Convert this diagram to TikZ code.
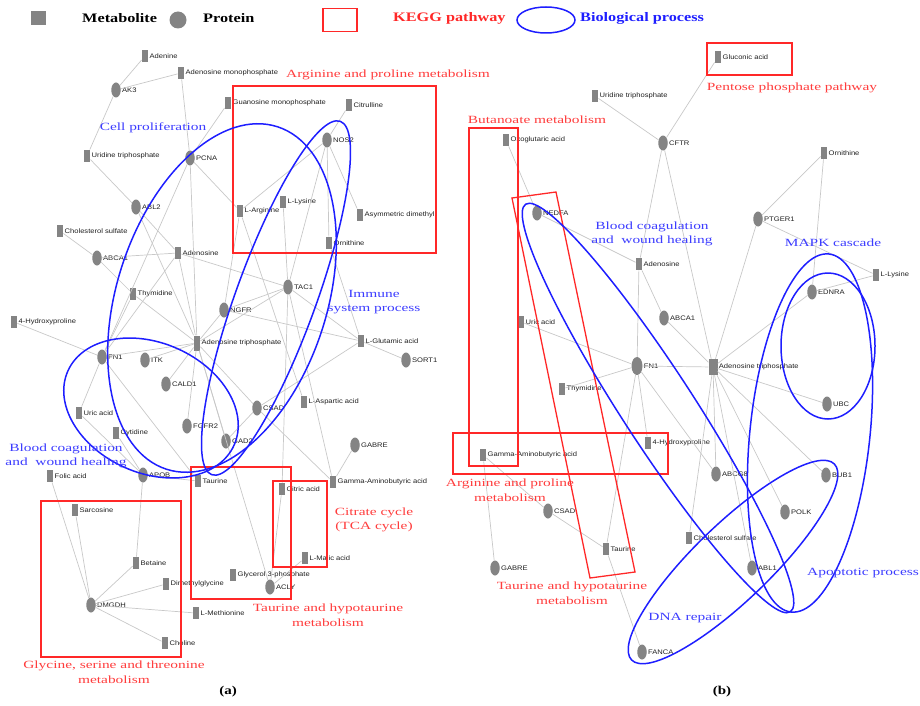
\documentclass[tikz,border=0pt]{standalone}
\usepackage{fontspec}
\setmainfont{Liberation Serif}
\newfontfamily\lblfont[FakeStretch=1.15]{Liberation Sans}
\newfontfamily\annfont[FakeStretch=1.4]{Liberation Serif}
\newfontfamily\legfont[FakeStretch=1.25]{Liberation Serif}
\usetikzlibrary{shapes.geometric}
\definecolor{nodegray}{RGB}{132,132,132}
\definecolor{linkgray}{RGB}{200,200,200}
\definecolor{keggred}{RGB}{255,40,40}
\definecolor{bioblue}{RGB}{30,30,255}
\definecolor{txtblue}{RGB}{60,60,255}
\definecolor{txtred}{RGB}{255,60,60}

\begin{document}
\begin{tikzpicture}[x=1pt, y=-1pt]
		\tikzstyle{meta}=[rectangle,fill=nodegray,minimum width=6.5pt,minimum height=12.5pt,inner sep=0pt]
		\tikzstyle{prot}=[ellipse,fill=nodegray,minimum width=9.5pt,minimum height=15pt,inner sep=0pt]
		\tikzstyle{every label}=[font=\lblfont\fontsize{6.6}{7}\selectfont,inner sep=1pt,text=black!88]
		\tikzstyle{link}=[draw=linkgray,line width=0.7pt]
		\tikzstyle{kegg}=[draw=keggred,line width=1.3pt]
		\tikzstyle{bio}=[draw=bioblue,line width=1.5pt]
		\tikzstyle{redtxt}=[text=txtred,font=\annfont\fontsize{11}{14.5}\selectfont,align=center,inner sep=0pt]
		\tikzstyle{bluetxt}=[text=txtblue,font=\annfont\fontsize{11}{14.5}\selectfont,align=center,inner sep=0pt]
		\tikzstyle{legtxt}=[font=\legfont\fontsize{13}{15}\selectfont\bfseries,anchor=west,inner sep=0pt]
		\useasboundingbox (0,0) rectangle (920,706);

		% legend
		\node[rectangle,fill=nodegray,minimum width=15pt,minimum height=14pt,inner sep=0pt] (legM) at (38,18) {};
		\node[legtxt] (legMt) at (82,18) {Metabolite};
		\node[circle,fill=nodegray,minimum size=17pt,inner sep=0pt] (legP) at (178,20) {};
		\node[legtxt] (legPt) at (203,18) {Protein};
		\node[draw=keggred,line width=1.3pt,minimum width=34pt,minimum height=23pt,inner sep=0pt] (legK) at (340,20) {};
		\node[legtxt,text=keggred] (legKt) at (393,18) {KEGG pathway};
		\node[ellipse,draw=bioblue,line width=1.5pt,minimum width=58pt,minimum height=26pt,inner sep=0pt] (legB) at (546,20) {};
		\node[legtxt,text=bioblue] (legBt) at (580,18) {Biological process};

		% network (a)
		\node[meta,label=right:Adenine] (aden) at (145,56) {};
		\node[meta,label=right:Adenosine monophosphate] (amp) at (181,73) {};
		\node[prot,label=right:AK3] (ak3) at (116,90) {};
		\node[meta,label=right:Guanosine monophosphate] (gmp) at (228,103) {};
		\node[meta,label=right:Citrulline] (citr) at (349,105) {};
		\node[prot,label=right:NOS2] (nos2) at (327,140) {};
		\node[prot,label=right:PCNA] (pcna) at (190,158) {};
		\node[meta,label=right:Uridine triphosphate] (utpA) at (87,156) {};
		\node[prot,label=right:ABL2] (abl2) at (136,207) {};
		\node[meta,label=right:L-Arginine] (larg) at (240,211) {};
		\node[meta,label=right:L-Lysine] (llysA) at (283,202) {};
		\node[meta,label=right:Asymmetric dimethyl] (adma) at (360,215) {};
		\node[meta,label=right:Ornithine] (ornA) at (329,243) {};
		\node[meta,label=right:Cholesterol sulfate] (cholA) at (60,231) {};
		\node[prot,label=right:ABCA1] (abca1A) at (97,258) {};
		\node[meta,label=right:Adenosine] (adoA) at (178,253) {};
		\node[prot,label=right:TAC1] (tac1) at (288,287) {};
		\node[meta,label=right:Thymidine] (thyA) at (133,294) {};
		\node[prot,label=right:NGFR] (ngfr) at (224,310) {};
		\node[meta,label=right:4-Hydroxyproline] (hypA) at (14,322) {};
		\node[meta,minimum height=15pt,label=right:Adenosine triphosphate] (atpA) at (197,343) {};
		\node[meta,label=right:L-Glutamic acid] (lglu) at (361,341) {};
		\node[prot,label=right:SORT1] (sort1) at (406,360) {};
		\node[prot,label=right:FN1] (fn1A) at (102,357) {};
		\node[prot,label=right:ITK] (itk) at (145,360) {};
		\node[prot,label=right:CALD1] (cald1) at (166,384) {};
		\node[meta,label=right:Uric acid] (uricA) at (79,413) {};
		\node[meta,label=right:Cytidine] (cyt) at (116,433) {};
		\node[prot,label=right:FGFR2] (fgfr2) at (187,426) {};
		\node[prot,label=right:CSAD] (csadA) at (257,408) {};
		\node[meta,label=right:L-Aspartic acid] (lasp) at (304,402) {};
		\node[prot,label=right:GABRE] (gabreA) at (355,445) {};
		\node[prot,label=right:GAD2] (gad2) at (226,441) {};
		\node[meta,label=right:Folic acid] (folic) at (50,476) {};
		\node[prot,label=right:APOB] (apob) at (143,475) {};
		\node[meta,label=right:Taurine] (taurA) at (198,481) {};
		\node[meta,label=right:Gamma-Aminobutyric acid] (gabaA) at (333,482) {};
		\node[meta,label=right:Citric acid] (citric) at (282,489) {};
		\node[meta,label=right:Sarcosine] (sarc) at (75,510) {};
		\node[meta,label=right:L-Malic acid] (lmal) at (305,558) {};
		\node[meta,label=right:Betaine] (betaine) at (136,563) {};
		\node[meta,label=right:Dimethylglycine] (dmg) at (166,584) {};
		\node[meta,label=right:Glycerol 3-phosphate] (g3p) at (233,575) {};
		\node[prot,label=right:ACLY] (acly) at (270,587) {};
		\node[prot,label=right:DMGDH] (dmgdh) at (91,605) {};
		\node[meta,label=right:L-Methionine] (lmet) at (196,613) {};
		\node[meta,label=right:Choline] (choline) at (165,643) {};

		\path[link]
		(aden) edge (ak3)  (amp) edge (ak3)  (amp) edge (pcna)
		(ak3) edge (utpA)  (utpA) edge (abl2)  (gmp) edge (pcna)
		(pcna) edge (larg)  (pcna) edge (atpA)  (pcna) edge (fn1A)
		(abl2) edge (adoA)  (abl2) edge (atpA)  (cholA) edge (abca1A)
		(abca1A) edge (adoA)  (abca1A) edge (thyA)  (thyA) edge (atpA)
		(adoA) edge (atpA)  (adoA) edge (tac1)  (citr) edge (nos2)
		(nos2) edge (larg)  (nos2) edge (adma)  (nos2) edge (ornA)
		(nos2) edge (tac1)  (larg) edge (ngfr)  (larg) edge (lasp)
		(llysA) edge (tac1)  (tac1) edge (lglu)  (ngfr) edge (lglu)
		(tac1) edge (ngfr)  (lglu) edge (sort1)  (lglu) edge (csadA)
		(ornA) edge (lglu)  (tac1) edge (citric)  (tac1) edge (gabaA)
		(csadA) edge (gabaA)  (gabreA) edge (gabaA)  (csadA) edge (gad2)
		(hypA) edge (fn1A)  (fn1A) edge (atpA)  (fn1A) edge (thyA)
		(fn1A) edge (adoA)  (fn1A) edge (uricA)  (fn1A) edge (taurA)
		(uricA) edge (apob)  (itk) edge (atpA)  (cald1) edge (atpA)
		(fgfr2) edge (atpA)  (atpA) edge (csadA)  (atpA) edge (gad2)
		(atpA) edge (acly)  (atpA) edge (tac1)  (atpA) edge (ngfr)
		(apob) edge (taurA)  (cyt) edge (apob)  (folic) edge (dmgdh)
		(sarc) edge (dmgdh)  (apob) edge (betaine)  (dmgdh) edge (betaine)
		(dmgdh) edge (dmg)  (dmgdh) edge (lmet)  (dmgdh) edge (choline)
		(citric) edge (acly)  (lmal) edge (acly);

		\draw[kegg] (233,86) rectangle (436,253);
		\draw[kegg] (41,501) rectangle (181,657);
		\draw[kegg] (191,467) rectangle (291,599);
		\draw[kegg] (273,481) rectangle (327,567);
		\draw[bio, rotate around={72:(222,298)}] (222,298) ellipse [x radius=180, y radius=105];
		\draw[bio, rotate around={70:(276,298)}] (276,298) ellipse [x radius=188, y radius=40];
		\draw[bio, rotate around={-24:(151,408)}] (151,408) ellipse [x radius=91, y radius=65];

		\node[redtxt] (argA) at (388,75) {Arginine and proline metabolism};
		\node[bluetxt] (cellA) at (153,128) {Cell proliferation};
		\node[bluetxt] (immA) at (374,302) {Immune\\system process};
		\node[bluetxt] (bloodA) at (66,456) {Blood coagulation\\and~ wound healing};
		\node[redtxt] (tcaA) at (374,520) {Citrate cycle\\(TCA cycle)};
		\node[redtxt] (taurtxtA) at (328,615) {Taurine and hypotaurine\\metabolism};
		\node[redtxt] (glyA) at (114,672) {Glycine, serine and threonine\\metabolism};
		\node[font=\legfont\fontsize{12}{14}\selectfont\bfseries] (capA) at (228,692) {(a)};

		% network (b)
		\node[meta,label=right:Gluconic acid] (gluc) at (718,57) {};
		\node[meta,label=right:Uridine triphosphate] (utpB) at (595,96) {};
		\node[prot,label=right:CFTR] (cftr) at (663,143) {};
		\node[meta,label=right:Ornithine] (ornB) at (824,153) {};
		\node[meta,label=right:Oxoglutaric acid] (oxo) at (506,140) {};
		\node[prot,label=right:PTGER1] (ptger1) at (758,219) {};
		\node[prot,label=right:NEDFA] (nedfa) at (537,213) {};
		\node[meta,label=right:Adenosine] (adoB) at (639,264) {};
		\node[meta,label=right:L-Lysine] (llysB) at (876,275) {};
		\node[prot,label=right:EDNRA] (ednra) at (812,292) {};
		\node[prot,label=right:ABCA1] (abca1B) at (664,318) {};
		\node[meta,label=right:Uric acid] (uricB) at (521,322) {};
		\node[prot,minimum width=11pt,minimum height=18pt,label=right:FN1] (fn1B) at (637,366) {};
		\node[meta,minimum width=9pt,minimum height=16pt,label=right:Adenosine triphosphate] (atpB) at (713,367) {};
		\node[meta,label=right:Thymidine] (thyB) at (562,389) {};
		\node[prot,label=right:UBC] (ubc) at (827,404) {};
		\node[meta,label=right:4-Hydroxyproline] (hypB) at (648,443) {};
		\node[meta,label=right:Gamma-Aminobutyric acid] (gabaB) at (483,455) {};
		\node[prot,label=right:ABCG8] (abcg8) at (716,474) {};
		\node[prot,label=right:BUB1] (bub1) at (826,475) {};
		\node[prot,label=right:CSAD] (csadB) at (548,511) {};
		\node[prot,label=right:POLK] (polk) at (785,512) {};
		\node[meta,label=right:Cholesterol sulfate] (cholB) at (689,538) {};
		\node[meta,label=right:Taurine] (taurB) at (606,549) {};
		\node[prot,label=right:ABL1] (abl1) at (752,568) {};
		\node[prot,label=right:GABRE] (gabreB) at (495,568) {};
		\node[prot,label=right:FANCA] (fanca) at (642,652) {};

		\path[link]
		(gluc) edge (cftr)  (utpB) edge (cftr)  (cftr) edge (adoB)
		(cftr) edge (atpB)  (oxo) edge (nedfa)  (nedfa) edge (adoB)
		(ornB) edge (ptger1)  (ornB) edge (ednra)  (ptger1) edge (atpB)
		(ptger1) edge (llysB)  (llysB) edge (ednra)  (adoB) edge (abca1B)
		(adoB) edge (fn1B)  (abca1B) edge (atpB)  (uricB) edge (fn1B)
		(thyB) edge (fn1B)  (fn1B) edge (atpB)  (atpB) edge (ednra)
		(atpB) edge (ubc)  (atpB) edge (abcg8)  (atpB) edge (bub1)
		(atpB) edge (polk)  (atpB) edge (cholB)  (atpB) edge (abl1)
		(fn1B) edge (hypB)  (fn1B) edge (taurB)  (fn1B) edge (abcg8)
		(gabaB) edge (csadB)  (csadB) edge (taurB)  (gabaB) edge (gabreB)
		(taurB) edge (fanca);

		\draw[kegg] (707,43) rectangle (792,75);
		\draw[kegg] (469,128) rectangle (518,466);
		\draw[kegg] (453,433) rectangle (668,474);
		\draw[kegg] (512,198) -- (556,192) -- (635,572) -- (590,578) -- cycle;
		\draw[bio, rotate around={-57:(658,408)}] (658,408) ellipse [x radius=243, y radius=36];
		\draw[bio] (828,346) ellipse [x radius=47, y radius=73];
		\draw[bio, rotate around={84:(810,433)}] (810,433) ellipse [x radius=180, y radius=60];
		\draw[bio, rotate around={44:(733,562)}] (733,562) ellipse [x radius=141, y radius=38];

		\node[redtxt] (pentB) at (792,88) {Pentose phosphate pathway};
		\node[redtxt] (butB) at (537,120) {Butanoate metabolism};
		\node[bluetxt] (bloodB) at (652,234) {Blood coagulation\\and~ wound healing};
		\node[bluetxt] (mapkB) at (833,243) {MAPK cascade};
		\node[redtxt] (argB) at (510,490) {Arginine and proline\\metabolism};
		\node[redtxt] (taurtxtB) at (572,593) {Taurine and hypotaurine\\metabolism};
		\node[bluetxt] (dnaB) at (685,618) {DNA repair};
		\node[bluetxt] (apoB) at (863,573) {Apoptotic process};
		\node[font=\legfont\fontsize{12}{14}\selectfont\bfseries] (capB) at (722,692) {(b)};
	\end{tikzpicture}
\end{document}
